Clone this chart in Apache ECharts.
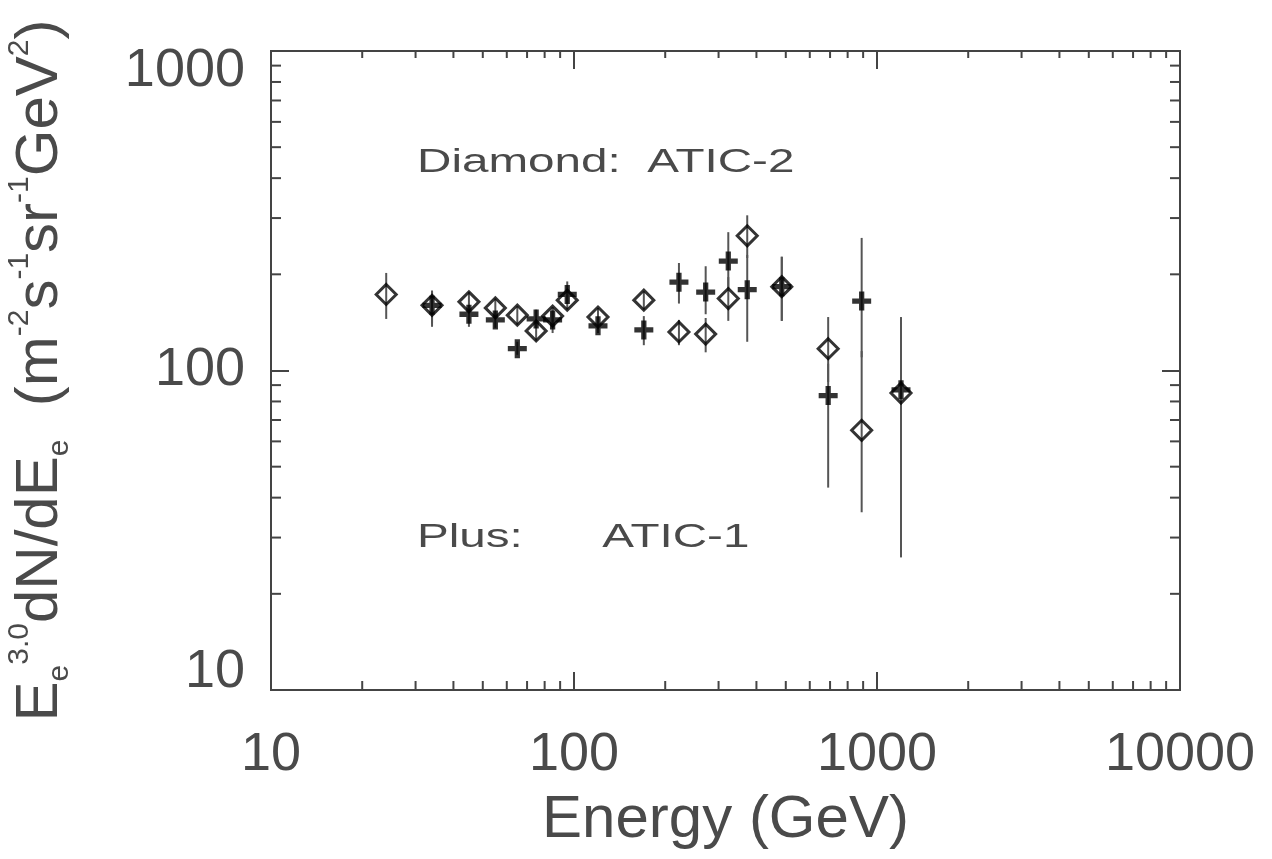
<!DOCTYPE html>
<html>
<head>
<meta charset="utf-8">
<script src="https://cdn.jsdelivr.net/npm/echarts@6/dist/echarts.min.js"></script>
<style>
  html, body { margin: 0; padding: 0; background: #fff; }
  #chart { width: 1272px; height: 859px; }
</style>
</head>
<body>
<div id="chart"></div>
<script>
// ATIC-2 (diamonds)
var energyA2 = [24, 34, 45, 55, 65, 75, 85, 95, 120, 170, 222, 272, 323, 373, 485, 690, 890, 1200]
var fluxA2 = [173, 160, 164, 157, 149, 133, 148, 166, 147, 166, 132, 130, 168, 264, 183, 117, 65, 85]
var lowA2 = [145, 137, 152, 146, 139, 124, 137, 155, 138, 155, 120, 114, 143, 225, 143, 92, 36, 26]
var highA2 = [202, 177, 176, 168, 159, 142, 158, 178, 157, 177, 144, 146, 196, 306, 227, 147, 115, 147]

// ATIC-1 (plus)
var energyA1 = [34, 45, 55, 65, 75, 85, 95, 120, 170, 222, 272, 323, 373, 485, 690, 890, 1200]
var fluxA1 = [160, 150, 144, 117, 145, 144, 173, 138, 134, 189, 176, 220, 179, 183, 83.5, 165, 87]
var lowA1 = [140, 137, 136, 112, 136, 131, 162, 131, 120, 162, 150, 180, 123, 143, 43, 110, 50]
var highA1 = [178, 162, 152, 123, 155, 156, 190, 146, 148, 217, 212, 271, 230, 227, 105, 260, 140]

// axis ranges and minor tick values
var xMin = 10, xMax = 10000
var yMin = 10, yMax = 1000
var minorX = [20, 30, 40, 50, 60, 70, 80, 90, 200, 300, 400, 500, 600, 700, 800, 900,
  2000, 3000, 4000, 5000, 6000, 7000, 8000, 9000]
var minorY = [20, 30, 40, 50, 60, 70, 80, 90, 200, 300, 400, 500, 600, 700, 800, 900]

var FONT = 'Liberation Sans'
var INK = '#444'
var TXT = '#4a4a4a'
var plusPath = 'path://M6.5,0h5v6.5h6.5v5h-6.5v6.5h-5v-6.5h-6.5v-5h6.5z'

var myChart = echarts.init(document.getElementById('chart'))

function errorBar(params, api) {
  var x = api.value(0)
  var p1 = api.coord([x, api.value(1)])
  var p2 = api.coord([x, api.value(2)])
  return {
    type: 'line',
    shape: { x1: p1[0], y1: p1[1], x2: p2[0], y2: p2[1] },
    style: { stroke: '#555', lineWidth: 2 }
  }
}

function xMinor(params, api) {
  var v = api.value(0)
  var b = api.coord([v, yMin])
  var t = api.coord([v, yMax])
  return {
    type: 'group',
    children: [
      { type: 'line', shape: { x1: b[0], y1: b[1], x2: b[0], y2: b[1] - 9 }, style: { stroke: INK, lineWidth: 2 } },
      { type: 'line', shape: { x1: t[0], y1: t[1], x2: t[0], y2: t[1] + 7 }, style: { stroke: INK, lineWidth: 2 } }
    ]
  }
}

function yMinor(params, api) {
  var v = api.value(1)
  var l = api.coord([xMin, v])
  var r = api.coord([xMax, v])
  return {
    type: 'group',
    children: [
      { type: 'line', shape: { x1: l[0], y1: l[1], x2: l[0] + 10, y2: l[1] }, style: { stroke: INK, lineWidth: 2 } },
      { type: 'line', shape: { x1: r[0], y1: r[1], x2: r[0] - 10, y2: r[1] }, style: { stroke: INK, lineWidth: 2 } }
    ]
  }
}

var tickStyle = { show: true, inside: true, length: 18, lineStyle: { color: INK, width: 2 } }

var option = {
  animation: false,
  backgroundColor: '#fff',
  grid: {
    left: 271, right: 92, top: 51, bottom: 169,
    containLabel: false,
    outerBoundsMode: 'none',
    show: true, borderColor: INK, borderWidth: 2
  },
  xAxis: [
    {
      type: 'log', logBase: 10, min: xMin, max: xMax,
      name: 'Energy (GeV)',
      nameLocation: 'middle',
      nameGap: 100,
      nameTextStyle: { fontFamily: FONT, fontSize: 60, color: TXT },
      axisLine: { show: true, lineStyle: { color: INK, width: 2 } },
      axisTick: tickStyle,
      splitLine: { show: false },
      axisLabel: {
        fontFamily: FONT, fontSize: 54, color: TXT, margin: 38,
        formatter: function (v) { return String(v) }
      }
    },
    {
      type: 'log', logBase: 10, min: xMin, max: xMax, position: 'top',
      axisLine: { show: true, lineStyle: { color: INK, width: 2 } },
      axisTick: tickStyle,
      axisLabel: { show: false },
      splitLine: { show: false }
    }
  ],
  yAxis: [
    {
      type: 'log', logBase: 10, min: yMin, max: yMax,
      name: '{m|E}{sub|e}{sup|3.0}{m|dN/dE}{sub|e}{m|  (m}{sup|-2}{m|s}{sup|-1}{m|sr}{sup|-1}{m|GeV}{sup|2}{m|)}',
      nameLocation: 'middle',
      nameRotate: 90,
      nameGap: 196,
      nameTextStyle: {
        fontFamily: FONT, color: TXT,
        rich: {
          m: { fontFamily: FONT, fontSize: 60, color: TXT, lineHeight: 70 },
          sup: { fontFamily: FONT, fontSize: 30, color: TXT, lineHeight: 30, verticalAlign: 'top' },
          sub: { fontFamily: FONT, fontSize: 30, color: TXT, lineHeight: 30, verticalAlign: 'bottom' }
        }
      },
      axisLine: { show: true, lineStyle: { color: INK, width: 2 } },
      axisTick: tickStyle,
      splitLine: { show: false },
      axisLabel: {
        margin: 26,
        formatter: function (v) {
          if (v === yMax) return '{hi|' + v + '}'
          if (v === yMin) return '{lo|' + v + '}'
          return '{n|' + v + '}'
        },
        rich: {
          n: { fontFamily: FONT, fontSize: 54, color: TXT },
          hi: { fontFamily: FONT, fontSize: 54, color: TXT, padding: [40, 0, 0, 0] },
          lo: { fontFamily: FONT, fontSize: 54, color: TXT, padding: [0, 0, 36, 0] }
        }
      }
    },
    {
      type: 'log', logBase: 10, min: yMin, max: yMax, position: 'right',
      axisLine: { show: true, lineStyle: { color: INK, width: 2 } },
      axisTick: tickStyle,
      axisLabel: { show: false },
      splitLine: { show: false }
    }
  ],
  graphic: [
    {
      type: 'text', left: 417, top: 146, scaleX: 1.4,
      style: { text: 'Diamond:  ATIC-2', fontFamily: FONT, fontSize: 34, fill: TXT }
    },
    {
      type: 'text', left: 417, top: 521, scaleX: 1.4,
      style: { text: 'Plus:      ATIC-1', fontFamily: FONT, fontSize: 34, fill: TXT }
    }
  ],
  series: [
    {
      type: 'custom', name: 'xMinor', silent: true,
      renderItem: xMinor,
      encode: { x: 0, y: 1 },
      data: minorX.map(function (v) { return [v, yMin] })
    },
    {
      type: 'custom', name: 'yMinor', silent: true,
      renderItem: yMinor,
      encode: { x: 0, y: 1 },
      data: minorY.map(function (v) { return [xMin, v] })
    },
    {
      type: 'custom', name: 'ATIC-2 err', silent: true,
      renderItem: errorBar,
      encode: { x: 0, y: [1, 2] },
      data: energyA2.map(function (e, i) { return [e, lowA2[i], highA2[i]] })
    },
    {
      type: 'custom', name: 'ATIC-1 err', silent: true,
      renderItem: errorBar,
      encode: { x: 0, y: [1, 2] },
      data: energyA1.map(function (e, i) { return [e, lowA1[i], highA1[i]] })
    },
    {
      type: 'scatter', name: 'ATIC-2', z: 5,
      symbol: 'diamond', symbolSize: 20,
      itemStyle: { color: 'rgba(0,0,0,0)', borderColor: '#000', borderWidth: 3 },
      data: energyA2.map(function (e, i) { return [e, fluxA2[i]] })
    },
    {
      type: 'scatter', name: 'ATIC-1', z: 6,
      symbol: plusPath, symbolSize: 19,
      itemStyle: { color: '#000' },
      data: energyA1.map(function (e, i) { return [e, fluxA1[i]] })
    }
  ]
}

myChart.setOption(option)
</script>
</body>
</html>
